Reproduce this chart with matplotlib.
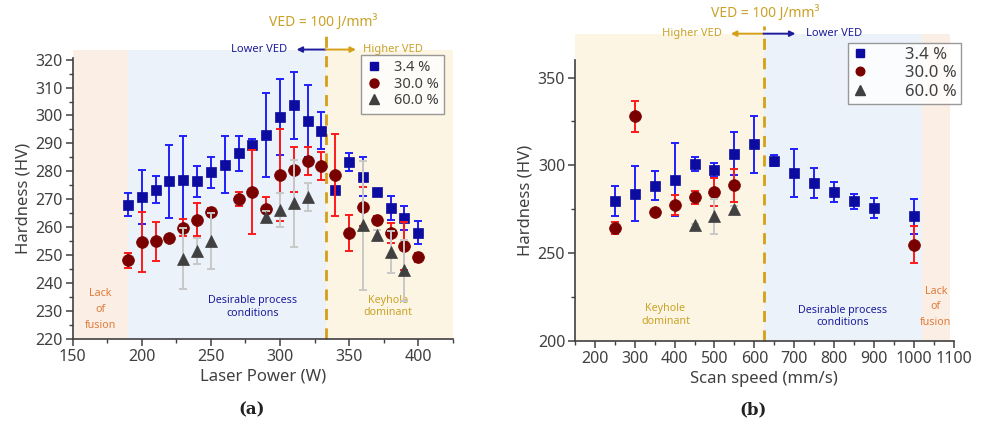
import matplotlib
matplotlib.use("Agg")
import matplotlib.pyplot as plt
from matplotlib.patches import Rectangle
from matplotlib.lines import Line2D
from matplotlib.ticker import MultipleLocator
import numpy as np

plt.rcParams['font.family'] = ['Noto Sans', 'DejaVu Sans']

# ---------------- data (a): Laser power ----------------
power_34 = [190, 200, 210, 220, 230, 240, 250, 260, 270, 280, 290, 300, 310, 320, 330, 340, 350, 360, 370, 380, 390, 400]
hv_p_34 = [268.1, 270.8, 273.5, 276.4, 276.8, 276.4, 279.6, 282.4, 286.5, 289.6, 293.0, 299.4, 303.6, 298.0, 294.6, 273.5, 283.3, 278.0, 272.6, 266.9, 263.3, 258.1]
err_p_34 = [4, 9.7, 4.7, 13, 16, 5.5, 5.7, 10.3, 6.3, 2, 15, 13.7, 12, 13, 6.7, 1, 3.3, 7, 1, 4.3, 4.3, 4]

power_30 = [190, 200, 210, 220, 230, 240, 250, 270, 280, 290, 300, 310, 320, 330, 340, 350, 360, 370, 380, 390, 400]
hv_p_30 = [248.2, 254.8, 255.0, 256.0, 259.9, 262.7, 265.4, 270.2, 272.6, 266.7, 278.8, 280.6, 283.7, 281.8, 278.6, 258.0, 267.3, 262.5, 258.0, 253.3, 249.2]
err_p_30 = [2.7, 10.7, 7, 1, 3, 5.8, 1.5, 2.5, 15, 4, 16.4, 8, 5, 5, 14.6, 6.5, 7, 1.5, 3.5, 8.6, 1.5]

power_60 = [230, 240, 250, 290, 300, 310, 320, 360, 370, 380, 390]
hv_p_60 = [248.8, 251.5, 255.0, 263.7, 266.1, 268.5, 270.8, 260.7, 257.1, 251.2, 244.6]
err_p_60 = [11, 4.5, 10, 2, 6, 15.5, 5, 23, 2, 7.6, 11]

# ---------------- data (b): Scan speed ----------------
speed_34 = [250, 300, 350, 400, 450, 500, 550, 600, 650, 700, 750, 800, 850, 900, 1000]
hv_s_34 = [279.9, 283.9, 288.5, 291.9, 300.6, 297.4, 306.6, 311.9, 302.7, 295.7, 290.0, 284.9, 279.5, 275.7, 270.9]
err_s_34 = [8.6, 15.7, 8.5, 21, 4, 4, 12.3, 16.2, 3, 13.5, 8.6, 5.8, 4.3, 5.9, 9.7]

speed_30 = [250, 300, 350, 400, 450, 500, 550, 1000]
hv_s_30 = [264.3, 328.0, 273.2, 277.2, 281.8, 284.9, 288.6, 254.8]
err_s_30 = [3.6, 8.8, 1.5, 5.7, 3.8, 7.8, 9.5, 10.5]

speed_60 = [450, 500, 550]
hv_s_60 = [265.8, 270.9, 275.2]
err_s_60 = [1, 9.8, 1.5]

labels = ['3.4 %', '30.0 %', '60.0 %']

# ---------------- styles ----------------
C_SQ, C_SQ_ERR = '#0c0ca0', '#2020ff'
C_CI, C_CI_ERR = '#7a0000', '#ff1a1a'
C_TR, C_TR_ERR = '#404040', '#c8c8c8'
C_ORANGE_BG, C_BLUE_BG, C_YELLOW_BG = '#fbeee5', '#ebf2f9', '#fdf5e3'
C_GOLD = '#d4a017'
C_GOLD_TXT = '#c9a227'
C_NAVY_TXT = '#1c1c9c'
C_ORANGE_TXT = '#e07b39'
C_TXT = '#404040'
TICK_FS = 11.5
LABEL_FS = 12
REGION_FS = 7.7

fig = plt.figure(figsize=(9.81, 4.28), dpi=100)
axA = fig.add_axes([0.0741, 0.208, 0.3874, 0.656])
axB = fig.add_axes([0.586, 0.2033, 0.3863, 0.6565])


def style_axes(ax):
    for s in ['top', 'right']:
        ax.spines[s].set_visible(False)
    for s in ['left', 'bottom']:
        ax.spines[s].set_color(C_TXT)
        ax.spines[s].set_linewidth(1.2)
    ax.tick_params(which='major', direction='out', length=5, width=1.1, colors=C_TXT, labelsize=TICK_FS, pad=2)
    ax.tick_params(which='minor', direction='out', length=3, width=1.0, colors=C_TXT)


def series(ax, x, y, e, marker, mc, ec, ms, z):
    ax.errorbar(x, y, yerr=e, fmt='none', ecolor=ec, elinewidth=1.4,
                capsize=2.6, capthick=1.4, zorder=z)
    ax.plot(x, y, linestyle='none', marker=marker, color=mc, ms=ms, mec=mc, mew=0.5, zorder=z + 0.5)


def legend_handles(ms_scale):
    return [Line2D([], [], ls='none', marker='s', color=C_SQ, ms=6 * ms_scale),
            Line2D([], [], ls='none', marker='o', color=C_CI, ms=6.5 * ms_scale),
            Line2D([], [], ls='none', marker='^', color=C_TR, ms=7 * ms_scale)]


# ---------------- panel (a) ----------------
ax = axA
style_axes(ax)
ax.set_xlim(150, 425)
ax.set_ylim(220, 320.5)
top_a = 323.6
ax.add_patch(Rectangle((150, 220), 40, top_a - 220, color=C_ORANGE_BG, lw=0, zorder=0, clip_on=False))
ax.add_patch(Rectangle((190, 220), 143, top_a - 220, color=C_BLUE_BG, lw=0, zorder=0, clip_on=False))
ax.add_patch(Rectangle((333, 220), 92, top_a - 220, color=C_YELLOW_BG, lw=0, zorder=0, clip_on=False))
ax.plot([333, 333], [220, 329.3], ls=(0, (4, 3)), color=C_GOLD, lw=2, clip_on=False, zorder=1)

series(ax, power_34, hv_p_34, err_p_34, 's', C_SQ, C_SQ_ERR, 7.5, 3)
series(ax, power_30, hv_p_30, err_p_30, 'o', C_CI, C_CI_ERR, 8.5, 4)
series(ax, power_60, hv_p_60, err_p_60, '^', C_TR, C_TR_ERR, 8.5, 5)

ax.xaxis.set_major_locator(MultipleLocator(50))
ax.xaxis.set_minor_locator(MultipleLocator(25))
ax.yaxis.set_major_locator(MultipleLocator(10))
ax.yaxis.set_minor_locator(MultipleLocator(5))
ax.set_xlabel('Laser Power (W)', fontsize=LABEL_FS, color=C_TXT, labelpad=3)
ax.set_ylabel('Hardness (HV)', fontsize=LABEL_FS, color=C_TXT, labelpad=3)

ax.text(170, 230.5, 'Lack\nof\nfusion', color=C_ORANGE_TXT, fontsize=REGION_FS, ha='center', va='center', linespacing=1.6)
ax.text(280, 231.5, 'Desirable process\nconditions', color=C_NAVY_TXT, fontsize=REGION_FS, ha='center', va='center', linespacing=1.2)
ax.text(378, 231.5, 'Keyhole\ndominant', color=C_GOLD_TXT, fontsize=REGION_FS, ha='center', va='center', linespacing=1.15)

ax.text(331, 333.2, 'VED = 100 J/mm³', color=C_GOLD_TXT, fontsize=10, ha='center', va='center')
ax.annotate('', xy=(312, top_a), xytext=(333, top_a), annotation_clip=False,
            arrowprops=dict(arrowstyle='-|>', color=C_NAVY_TXT, lw=1.4, mutation_scale=8, shrinkA=0, shrinkB=0))
ax.annotate('', xy=(355, top_a), xytext=(333, top_a), annotation_clip=False,
            arrowprops=dict(arrowstyle='-|>', color=C_GOLD, lw=1.4, mutation_scale=8, shrinkA=0, shrinkB=0))
ax.text(305, top_a, 'Lower VED', color=C_NAVY_TXT, fontsize=8, fontweight='bold', ha='right', va='center')
ax.text(360, top_a, 'Higher VED', color=C_GOLD_TXT, fontsize=8, fontweight='bold', ha='left', va='center')

legA = ax.legend(handles=legend_handles(1.0), labels=labels, loc='upper left',
                 bbox_to_anchor=(0.759, 1.012), fontsize=10.5, frameon=True,
                 fancybox=False, edgecolor='#808080', handlelength=1.0, handletextpad=0.9,
                 borderpad=0.35, labelspacing=0.12, borderaxespad=0)
legA.get_frame().set_linewidth(1.0)
for t in legA.get_texts():
    t.set_color(C_TXT)

# ---------------- panel (b) ----------------
ax = axB
style_axes(ax)
ax.set_xlim(150, 1100)
ax.set_ylim(200, 360)
top_b = 375
ax.add_patch(Rectangle((150, 200), 473, top_b - 200, color=C_YELLOW_BG, lw=0, zorder=0, clip_on=False))
ax.add_patch(Rectangle((623, 200), 397, top_b - 200, color=C_BLUE_BG, lw=0, zorder=0, clip_on=False))
ax.add_patch(Rectangle((1020, 200), 70, top_b - 200, color=C_ORANGE_BG, lw=0, zorder=0, clip_on=False))
ax.plot([623, 623], [200, 379.2], ls=(0, (4, 3)), color=C_GOLD, lw=2, clip_on=False, zorder=1)

series(ax, speed_34, hv_s_34, err_s_34, 's', C_SQ, C_SQ_ERR, 7.5, 3)
series(ax, speed_30, hv_s_30, err_s_30, 'o', C_CI, C_CI_ERR, 8.5, 4)
series(ax, speed_60, hv_s_60, err_s_60, '^', C_TR, C_TR_ERR, 8.5, 5)

ax.set_xticks(np.arange(200, 1101, 100))
ax.xaxis.set_minor_locator(MultipleLocator(50))
ax.yaxis.set_major_locator(MultipleLocator(50))
ax.yaxis.set_minor_locator(MultipleLocator(25))
ax.set_xlabel('Scan speed (mm/s)', fontsize=LABEL_FS, color=C_TXT, labelpad=3)
ax.set_ylabel('Hardness (HV)', fontsize=LABEL_FS, color=C_TXT, labelpad=3)

ax.text(377, 214.8, 'Keyhole\ndominant', color=C_GOLD_TXT, fontsize=REGION_FS, ha='center', va='center', linespacing=1.15)
ax.text(822, 214, 'Desirable process\nconditions', color=C_NAVY_TXT, fontsize=REGION_FS, ha='center', va='center', linespacing=1.2)
ax.text(1055, 219.4, 'Lack\nof\nfusion', color=C_ORANGE_TXT, fontsize=REGION_FS, ha='center', va='center', linespacing=1.6)

ax.text(627, 386, 'VED = 100 J/mm³', color=C_GOLD_TXT, fontsize=10, ha='center', va='center')
ax.annotate('', xy=(541, top_b), xytext=(623, top_b), annotation_clip=False,
            arrowprops=dict(arrowstyle='-|>', color=C_GOLD, lw=1.4, mutation_scale=8, shrinkA=0, shrinkB=0))
ax.annotate('', xy=(703, top_b), xytext=(623, top_b), annotation_clip=False,
            arrowprops=dict(arrowstyle='-|>', color=C_NAVY_TXT, lw=1.4, mutation_scale=8, shrinkA=0, shrinkB=0))
ax.text(519, top_b, 'Higher VED', color=C_GOLD_TXT, fontsize=8, fontweight='bold', ha='right', va='center')
ax.text(729, top_b, 'Lower VED', color=C_NAVY_TXT, fontsize=8, fontweight='bold', ha='left', va='center')

legB = ax.legend(handles=legend_handles(0.95), labels=labels, loc='upper left',
                 bbox_to_anchor=(0.72, 1.062), fontsize=12, frameon=True,
                 fancybox=False, edgecolor='#808080', handlelength=1.0, handletextpad=2.2,
                 borderpad=0.25, labelspacing=0.15, borderaxespad=0)
legB.get_frame().set_linewidth(1.0)
for t in legB.get_texts():
    t.set_color(C_TXT)

fig.text(0.257, 0.042, '(a)', fontsize=12, fontweight='bold', family='DejaVu Serif', ha='center', va='center', color='#222222')
fig.text(0.768, 0.042, '(b)', fontsize=12, fontweight='bold', family='DejaVu Serif', ha='center', va='center', color='#222222')

fig.savefig('out.png', dpi=100)
